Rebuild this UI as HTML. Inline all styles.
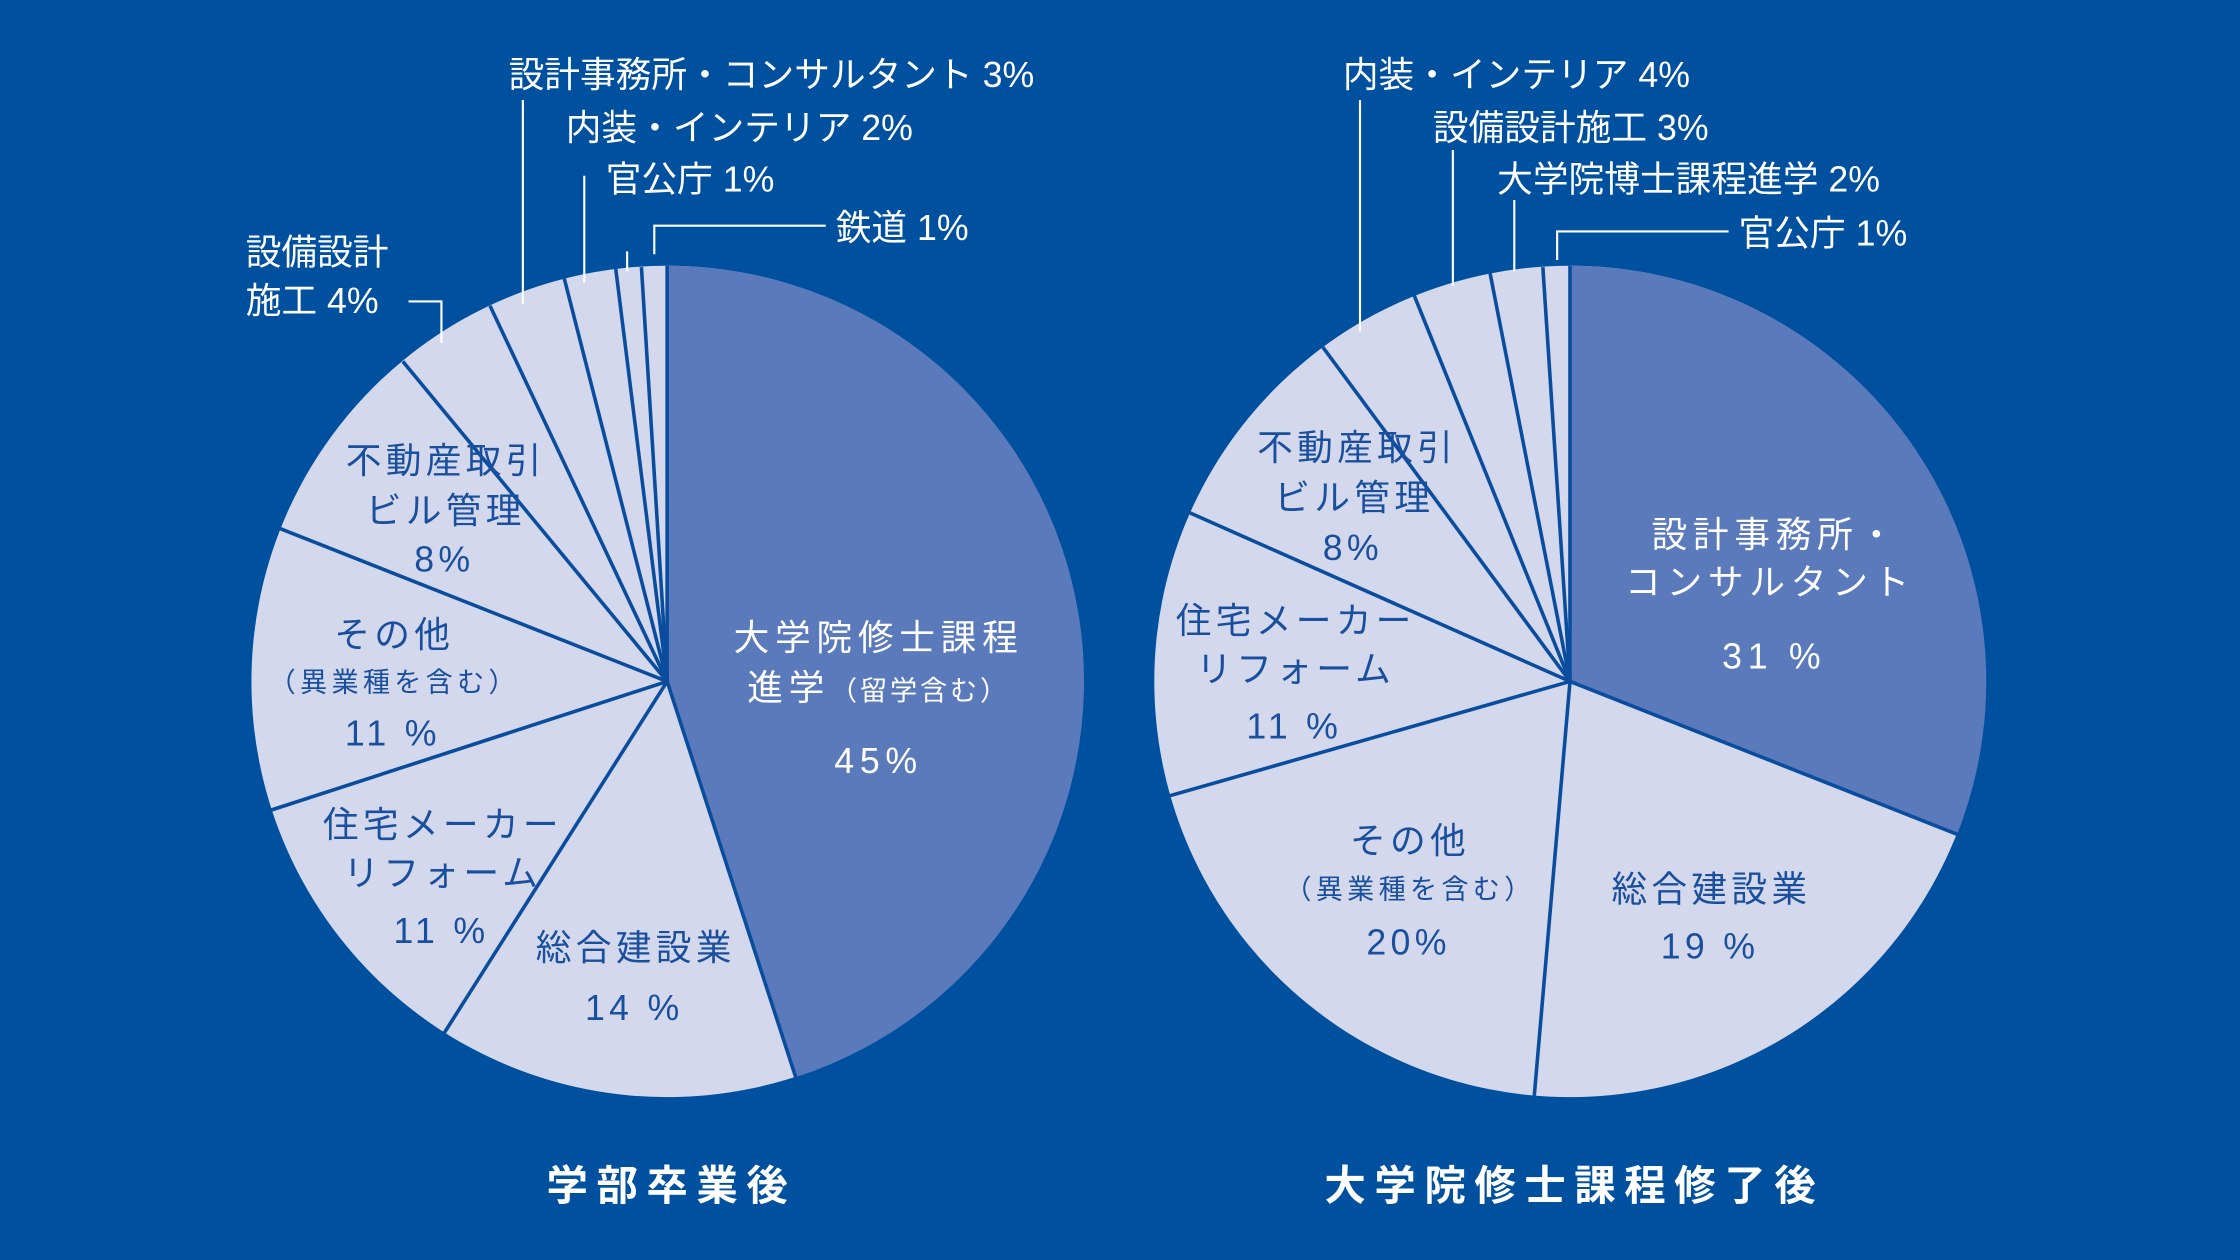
<!DOCTYPE html>
<html><head><meta charset="utf-8"><style>
html,body{margin:0;padding:0;background:#0050a0;}
svg{display:block}
text{font-family:"Liberation Sans","Noto Sans CJK JP",sans-serif;}
</style></head><body>
<svg width="2240" height="1260" viewBox="0 0 1568 882" xmlns="http://www.w3.org/2000/svg">
<rect width="1568" height="882" fill="#0050a0"/>
<!-- left pie -->
<circle cx="467" cy="477" r="291" fill="#d3d8ec"/>
<path d="M467 477 L467 186 A291 291 0 0 1 557 754 Z" fill="#5a7abb"/>
<g stroke="#0a4d9e" stroke-width="2.5">
<line x1="467" y1="477" x2="467" y2="186"/>
<line x1="467" y1="477" x2="557" y2="754"/>
<line x1="467" y1="477" x2="311" y2="723"/>
<line x1="467" y1="477" x2="190" y2="567"/>
<line x1="467" y1="477" x2="196" y2="370"/>
<line x1="467" y1="477" x2="282" y2="253"/>
<line x1="467" y1="477" x2="343" y2="214"/>
<line x1="467" y1="477" x2="395" y2="195"/>
<line x1="467" y1="477" x2="431" y2="188"/>
<line x1="467" y1="477" x2="449" y2="187"/>
</g>
<!-- right pie -->
<circle cx="1099" cy="477" r="291" fill="#d3d8ec"/>
<path d="M1099 477 L1099 186 A291 291 0 0 1 1370 584 Z" fill="#5a7abb"/>
<g stroke="#0a4d9e" stroke-width="2.5">
<line x1="1099" y1="477" x2="1099" y2="186"/>
<line x1="1099" y1="477" x2="1370" y2="584"/>
<line x1="1099" y1="477" x2="1074" y2="767"/>
<line x1="1099" y1="477" x2="819" y2="557"/>
<line x1="1099" y1="477" x2="833" y2="359"/>
<line x1="1099" y1="477" x2="926" y2="243"/>
<line x1="1099" y1="477" x2="990" y2="207"/>
<line x1="1099" y1="477" x2="1043" y2="191"/>
<line x1="1099" y1="477" x2="1080" y2="187"/>
</g>
<!-- leader lines -->
<g stroke="#fff" stroke-width="1.5" fill="none">
<polyline points="366,70 366,213"/>
<polyline points="409,123 409,198"/>
<polyline points="439,176 439,190"/>
<polyline points="458,178 458,158 578,158"/>
<polyline points="286,211 309,211 309,240"/>
<polyline points="952,70 952,232"/>
<polyline points="1017,105 1017,200"/>
<polyline points="1060,140 1060,190"/>
<polyline points="1090,182 1090,162 1210,162"/>
</g>
<g fill="#fff" font-size="25">
<text x="356" y="61">設計事務所・コンサルタント 3%</text>
<text x="396" y="98">内装・インテリア 2%</text>
<text x="424" y="134">官公庁 1%</text>
<text x="585" y="168">鉄道 1%</text>
<text x="172" y="185">設備設計</text>
<text x="172" y="219">施工 4%</text>
<text x="940" y="61">内装・インテリア 4%</text>
<text x="1003" y="98">設備設計施工 3%</text>
<text x="1048" y="134">大学院博士課程進学 2%</text>
<text x="1217" y="172">官公庁 1%</text>
</g>
<g fill="#fff" font-size="25" text-anchor="middle" letter-spacing="4">
<text x="615" y="455">大学院修士課程</text>
<text x="615" y="490">進学<tspan font-size="19" letter-spacing="2">（留学含む）</tspan></text>
<text x="615" y="541">45%</text>
<text x="1243" y="383">設計事務所・</text>
<text x="1239" y="416">コンサルタント</text>
<text x="1242" y="468">31 %</text>
</g>
<g fill="#1a4f9e" font-size="25" text-anchor="middle" letter-spacing="3">
<text x="312" y="331">不動産取引</text>
<text x="312" y="366">ビル管理</text>
<text x="311" y="400">8%</text>
<text x="276" y="453">その他</text>
<text x="276" y="484" font-size="19">（異業種を含む）</text>
<text x="275" y="522">11 %</text>
<text x="310" y="586">住宅メーカー</text>
<text x="310" y="620">リフォーム</text>
<text x="309" y="660">11 %</text>
<text x="445" y="672">総合建設業</text>
<text x="444" y="714">14 %</text>
<text x="950" y="322">不動産取引</text>
<text x="948" y="357">ビル管理</text>
<text x="947" y="392">8%</text>
<text x="907" y="443">住宅メーカー</text>
<text x="907" y="477">リフォーム</text>
<text x="906" y="517">11 %</text>
<text x="987" y="597">その他</text>
<text x="987" y="629" font-size="19">（異業種を含む）</text>
<text x="986" y="668">20%</text>
<text x="1198" y="631">総合建設業</text>
<text x="1197" y="671">19 %</text>
</g>
<g fill="#fff" font-size="29" font-weight="bold" text-anchor="middle" letter-spacing="6">
<text x="470" y="840">学部卒業後</text>
<text x="1102" y="840">大学院修士課程修了後</text>
</g>
</svg>
</body></html>
